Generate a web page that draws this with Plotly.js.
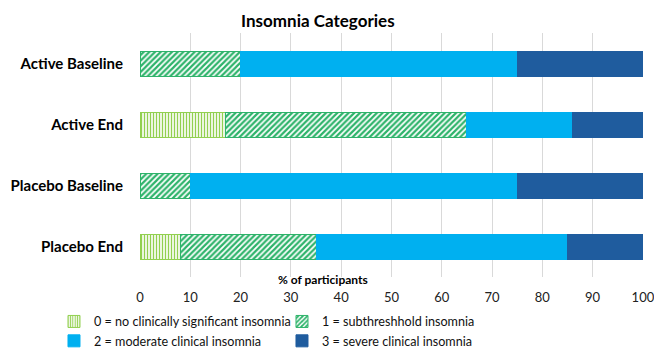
<!DOCTYPE html>
<html>
<head>
<meta charset="utf-8">
<script src="https://cdn.plot.ly/plotly-3.0.1.min.js"></script>
<style>html,body{margin:0;padding:0;background:#fff;}#chart{width:654px;height:354px;}</style>
</head>
<body>
<div id="chart"></div>
<script>
const groups = ["Active Baseline", "Active End", "Placebo Baseline", "Placebo End"];
const seriesNames = [
  "0 = no clinically significant insomnia",
  "1 = subthreshhold insomnia",
  "2 = moderate clinical insomnia",
  "3 = severe clinical insomnia"
];
const cat0 = [0, 17, 0, 8];
const cat1 = [20, 48, 10, 27];
const cat2 = [55, 21, 65, 50];
const cat3 = [25, 14, 25, 15];
const xTicks = [0, 10, 20, 30, 40, 50, 60, 70, 80, 90, 100];

const FONT = "Lato, 'Open Sans', sans-serif";
const seriesVals = [cat0, cat1, cat2, cat3];
const styles = [
  {color: "#ffffff", line: "#92D050", pattern: {shape: "|", fgcolor: "#92D050", bgcolor: "#ffffff", size: 3, solidity: 0.45}},
  {color: "#ffffff", line: "#2DB36A", pattern: {shape: "/", fgcolor: "#2DB36A", bgcolor: "#ffffff", size: 4, solidity: 0.55}},
  {color: "#00B0F0", line: "#00B0F0"},
  {color: "#1F5C9E", line: "#1F5C9E"}
];

const traces = seriesVals.map((vals, i) => {
  const st = styles[i];
  const marker = {color: st.color, line: {color: st.line, width: 1}};
  if (st.pattern) marker.pattern = st.pattern;
  return {
    type: "bar",
    orientation: "h",
    name: seriesNames[i],
    y: groups,
    x: vals,
    width: 0.41,
    marker: marker,
    hoverinfo: "x+name"
  };
});

const layout = {
  width: 654,
  height: 354,
  margin: {l: 140, r: 11, t: 33, b: 77, autoexpand: false},
  barmode: "stack",
  paper_bgcolor: "#ffffff",
  plot_bgcolor: "#ffffff",
  font: {family: FONT, color: "#000000"},
  title: {
    text: "<b>Insomnia Categories</b>",
    font: {family: FONT, size: 17, color: "#000000"},
    x: 0.486, xanchor: "center", xref: "container",
    y: 0.94, yanchor: "middle", yref: "container"
  },
  xaxis: {
    range: [0, 100.02],
    tickvals: xTicks,
    ticktext: xTicks.map(String),
    showgrid: true,
    gridcolor: "#D9D9D9",
    gridwidth: 1,
    zeroline: false,
    showline: false,
    ticks: "",
    tickfont: {family: FONT, size: 13, color: "#222222"},
    ticklabelstandoff: 11,
    ticklabeloverflow: "allow",
    automargin: false,
    fixedrange: true
  },
  yaxis: {
    type: "category",
    categoryorder: "array",
    categoryarray: groups,
    autorange: "reversed",
    tickfont: {family: FONT, size: 15, color: "#000000", weight: "bold"},
    ticks: "",
    ticklabelstandoff: 16,
    showgrid: false,
    zeroline: false,
    showline: false,
    automargin: false,
    fixedrange: true
  },
  showlegend: true,
  legend: {
    orientation: "h",
    x: -0.171, xanchor: "left", xref: "paper",
    y: -0.122, yanchor: "top", yref: "paper",
    font: {family: FONT, size: 12.6, color: "#111111"},
    entrywidth: 183,
    entrywidthmode: "pixels",
    itemwidth: 30,
    tracegroupgap: 0,
    traceorder: "normal"
  },
  annotations: [{
    text: "<b>% of participants</b>",
    xref: "paper", yref: "paper",
    x: 0.5, y: 0.0, yanchor: "middle", xanchor: "center",
    yshift: -2, xshift: -69,
    showarrow: false,
    font: {family: FONT, size: 12, color: "#000000"}
  }]
};

Plotly.newPlot("chart", traces, layout, {displayModeBar: false, staticPlot: true});
</script>
</body>
</html>
